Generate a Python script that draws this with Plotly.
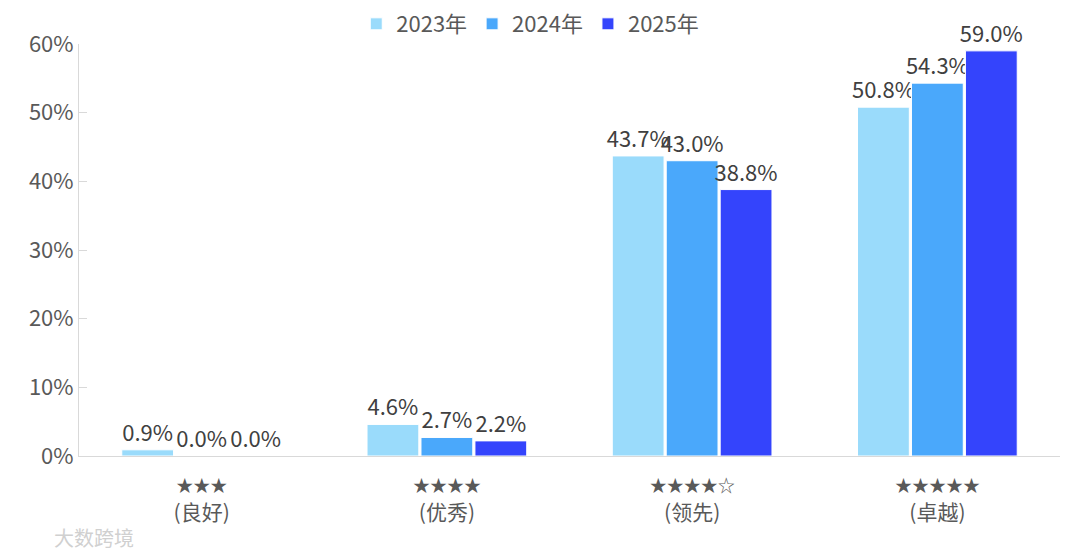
import plotly.graph_objects as go

star_rows = ["★★★", "★★★★", "★★★★☆", "★★★★★"]
level_names = ["(良好)", "(优秀)", "(领先)", "(卓越)"]
series_names = ["2023年", "2024年", "2025年"]
values_2023 = [0.9, 4.6, 43.7, 50.8]
values_2024 = [0.0, 2.7, 43.0, 54.3]
values_2025 = [0.0, 2.2, 38.8, 59.0]
colors = ["#9ADBFB", "#4AA8FB", "#3444FC"]
y_ticks = [0, 10, 20, 30, 40, 50, 60]
y_tick_labels = ["0%", "10%", "20%", "30%", "40%", "50%", "60%"]

categories = [f"<span style='font-size:17px'>{s}</span><br>{n}" for s, n in zip(star_rows, level_names)]

font_family = "Noto Sans CJK SC"
fig = go.Figure()
for name, vals, col in zip(series_names, [values_2023, values_2024, values_2025], colors):
    fig.add_trace(go.Bar(
        x=categories, y=vals, name=name,
        marker=dict(color=col, line=dict(color="white", width=1)),
        text=[f"{v:.1f}%" for v in vals], textposition="outside",
        constraintext="none",
        textfont=dict(size=22, color="#404040", family=font_family),
        cliponaxis=False,
    ))

fig.update_layout(
    width=1080, height=556,
    margin=dict(l=71, r=28, t=36, b=108, autoexpand=False),
    plot_bgcolor="white", paper_bgcolor="white",
    barmode="group", bargap=0.34, bargroupgap=0.04,
    font=dict(family=font_family, color="#595959", size=21),
    legend=dict(orientation="h", xref="paper", x=0.46, xanchor="center",
                yref="paper", y=1.0485, yanchor="middle",
                font=dict(size=22, color="#595959"), itemwidth=30,
                traceorder="normal"),
    showlegend=True,
)
fig.update_yaxes(range=[0, 60], tickvals=y_ticks, ticktext=y_tick_labels,
                 showgrid=False, showline=True, linecolor="#D9D9D9", linewidth=1,
                 ticks="inside", ticklen=8, tickcolor="#D9D9D9",
                 tickfont=dict(size=22, color="#595959"), zeroline=False)
fig.update_xaxes(showline=True, linecolor="#D9D9D9", linewidth=1, showgrid=False,
                 tickfont=dict(size=21, color="#595959"), ticklabelstandoff=10)
fig.add_annotation(text="大数跨境", xref="paper", yref="paper", x=0.015, y=-0.197,
                   xanchor="center", yanchor="middle", showarrow=False,
                   font=dict(size=20, color="#D0D0D0", family=font_family))
fig.write_html("out.html")
